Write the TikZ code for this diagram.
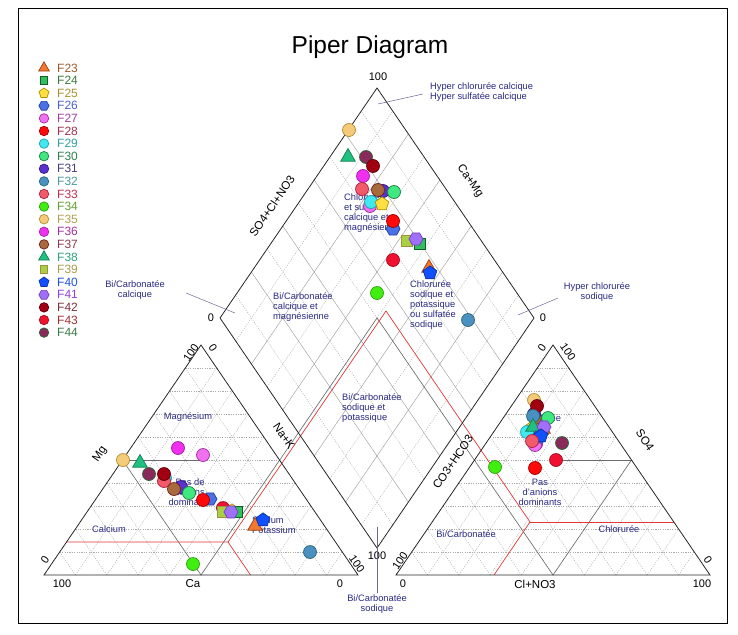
\documentclass[tikz,border=0pt]{standalone}
\usepackage{fontspec}
\setmainfont{Liberation Sans}
\usetikzlibrary{calc,shapes.geometric}

\definecolor{zone}{RGB}{40,40,130}
\definecolor{lead}{RGB}{105,105,150}
\definecolor{redln}{RGB}{225,55,55}
\definecolor{f23}{HTML}{F07830}\definecolor{b23}{HTML}{A04010}\definecolor{t23}{HTML}{9A5A2A}
\definecolor{f24}{HTML}{30C060}\definecolor{b24}{HTML}{106020}\definecolor{t24}{HTML}{3A7A3A}
\definecolor{f25}{HTML}{FFE040}\definecolor{b25}{HTML}{B09000}\definecolor{t25}{HTML}{A89030}
\definecolor{f26}{HTML}{4A70E8}\definecolor{b26}{HTML}{2040A0}\definecolor{t26}{HTML}{4A60D0}
\definecolor{f27}{HTML}{F070F0}\definecolor{b27}{HTML}{A030A0}\definecolor{t27}{HTML}{A040A0}
\definecolor{f28}{HTML}{FF0A0A}\definecolor{b28}{HTML}{A00000}\definecolor{t28}{HTML}{A03050}
\definecolor{f29}{HTML}{40E8F0}\definecolor{b29}{HTML}{20A0B0}\definecolor{t29}{HTML}{30A0A0}
\definecolor{f30}{HTML}{40E880}\definecolor{b30}{HTML}{208040}\definecolor{t30}{HTML}{2E8050}
\definecolor{f31}{HTML}{5A30D0}\definecolor{b31}{HTML}{301880}\definecolor{t31}{HTML}{4A3A80}
\definecolor{f32}{HTML}{4A90C0}\definecolor{b32}{HTML}{2A6A7A}\definecolor{t32}{HTML}{4A9A9A}
\definecolor{f33}{HTML}{F25A6A}\definecolor{b33}{HTML}{B02040}\definecolor{t33}{HTML}{C03050}
\definecolor{f34}{HTML}{40EE10}\definecolor{b34}{HTML}{30A010}\definecolor{t34}{HTML}{60A030}
\definecolor{f35}{HTML}{F5CA7A}\definecolor{b35}{HTML}{B09030}\definecolor{t35}{HTML}{B0A050}
\definecolor{f36}{HTML}{F030F0}\definecolor{b36}{HTML}{A020A0}\definecolor{t36}{HTML}{A030A0}
\definecolor{f37}{HTML}{A86A3A}\definecolor{b37}{HTML}{702020}\definecolor{t37}{HTML}{8A3A4A}
\definecolor{f38}{HTML}{20C080}\definecolor{b38}{HTML}{108050}\definecolor{t38}{HTML}{30A080}
\definecolor{f39}{HTML}{A8D040}\definecolor{b39}{HTML}{A09040}\definecolor{t39}{HTML}{A89A50}
\definecolor{f40}{HTML}{1050FF}\definecolor{b40}{HTML}{1030A0}\definecolor{t40}{HTML}{2050E0}
\definecolor{f41}{HTML}{A070F8}\definecolor{b41}{HTML}{7040C0}\definecolor{t41}{HTML}{9040E0}
\definecolor{f42}{HTML}{A00010}\definecolor{b42}{HTML}{600010}\definecolor{t42}{HTML}{803040}
\definecolor{f43}{HTML}{F01030}\definecolor{b43}{HTML}{A01020}\definecolor{t43}{HTML}{A03030}
\definecolor{f44}{HTML}{8A2A5A}\definecolor{b44}{HTML}{2A6A3A}\definecolor{t44}{HTML}{3A7A4A}

\newcommand{\mks}{13pt}

\tikzset{
  mk/.style={draw, line width=0.7pt, inner sep=0pt, minimum size=\mks},
  ci/.style={mk, circle},
  tri/.style={mk, regular polygon, regular polygon sides=3, minimum size=1.3*\mks},
  sq/.style={mk, rectangle, minimum size=0.8*\mks},
  pent/.style={mk, regular polygon, regular polygon sides=5, minimum size=1.1*\mks},
  hexa/.style={mk, regular polygon, regular polygon sides=6, minimum size=1.08*\mks},
  m23/.style={tri, fill=f23, draw=b23},
  m24/.style={sq, fill=f24, draw=b24},
  m25/.style={pent, fill=f25, draw=b25},
  m26/.style={hexa, fill=f26, draw=b26},
  m27/.style={ci, fill=f27, draw=b27},
  m28/.style={ci, fill=f28, draw=b28},
  m29/.style={ci, fill=f29, draw=b29},
  m30/.style={ci, fill=f30, draw=b30},
  m31/.style={ci, fill=f31, draw=b31},
  m32/.style={ci, fill=f32, draw=b32},
  m33/.style={ci, fill=f33, draw=b33},
  m34/.style={ci, fill=f34, draw=b34},
  m35/.style={ci, fill=f35, draw=b35},
  m36/.style={ci, fill=f36, draw=b36},
  m37/.style={ci, fill=f37, draw=b37},
  m38/.style={tri, fill=f38, draw=b38},
  m39/.style={sq, fill=f39, draw=b39},
  m40/.style={pent, fill=f40, draw=b40},
  m41/.style={hexa, fill=f41, draw=b41},
  m42/.style={ci, fill=f42, draw=b42},
  m43/.style={ci, fill=f43, draw=b43},
  m44/.style={ci, fill=f44, draw=b44}
}

\begin{document}
\begin{tikzpicture}[x=1pt, y=-1pt,
  edge/.style={line width=0.8pt, black!85},
  tgrid/.style={gray!65, line width=0.4pt, dash pattern=on 1.2pt off 1.2pt},
  dgrid/.style={gray!75, line width=0.45pt},
  ddash/.style={gray!65, line width=0.4pt, dash pattern=on 1.2pt off 1.2pt},
  cls/.style={gray!85!black, line width=0.6pt},
  redl/.style={redln, line width=0.7pt},
  leader/.style={lead, line width=0.5pt},
  zonetxt/.style={text=zone, font=\fontsize{9.3}{10}\selectfont, inner sep=0pt},
  ticktxt/.style={font=\fontsize{11}{12}\selectfont, inner sep=0pt},
  axtxt/.style={font=\fontsize{11.5}{13}\selectfont, inner sep=0pt}]
\useasboundingbox (0,0) rectangle (738,634);
\draw[line width=0.6pt] (18,8) rectangle (727,623);

\node[font=\fontsize{24.5}{27}\selectfont] (title) at (370,47) {Piper Diagram};

% corners
\coordinate (Lca) at (44,575);
\coordinate (Lna) at (358,575);
\coordinate (Lmg) at (201,345);
\coordinate (Rco) at (396,575);
\coordinate (Rcl) at (710,575);
\coordinate (Rso) at (553,345);
\coordinate (Db) at (377,548);
\coordinate (Dl) at (220,318);
\coordinate (Dr) at (534,318);
\coordinate (Dt) at (377,88);
\coordinate (Dc) at ($(Dl)!.5!(Dr)$);

% grids
\foreach \i in {1,...,9}{
  \draw[tgrid] ($(Lca)!0.\i!(Lmg)$) -- ($(Lna)!0.\i!(Lmg)$);
  \draw[tgrid] ($(Lca)!0.\i!(Lna)$) -- ($(Lca)!0.\i!(Lmg)$);
  \draw[tgrid] ($(Lna)!0.\i!(Lca)$) -- ($(Lna)!0.\i!(Lmg)$);
  \draw[tgrid] ($(Rco)!0.\i!(Rso)$) -- ($(Rcl)!0.\i!(Rso)$);
  \draw[tgrid] ($(Rco)!0.\i!(Rcl)$) -- ($(Rco)!0.\i!(Rso)$);
  \draw[tgrid] ($(Rcl)!0.\i!(Rco)$) -- ($(Rcl)!0.\i!(Rso)$);
}
\foreach \i in {1,3,5,7,9}{
  \draw[ddash] ($(Dl)!0.\i!(Db)$) -- ($(Dt)!0.\i!(Dr)$);
  \draw[ddash] ($(Db)!0.\i!(Dr)$) -- ($(Dl)!0.\i!(Dt)$);
}
\foreach \i in {2,4,6,8}{
  \draw[dgrid] ($(Dl)!0.\i!(Db)$) -- ($(Dt)!0.\i!(Dr)$);
  \draw[dgrid] ($(Db)!0.\i!(Dr)$) -- ($(Dl)!0.\i!(Dt)$);
}

% classes
\coordinate (Lm) at ($(Lca)!.5!(Lmg)$);
\coordinate (Lb) at ($(Lca)!.5!(Lna)$);
\coordinate (Lh) at ($(Lb)!.5!(Lmg)$);
\coordinate (Rm) at ($(Rcl)!.5!(Rso)$);
\coordinate (Rb) at ($(Rco)!.5!(Rcl)$);
\coordinate (Rh) at ($(Rb)!.5!(Rso)$);
\draw[cls] (Lm) -- (Lh);
\draw[cls] (Lm) -- (Lb) -- (Dc);
\draw[cls] (Rm) -- (Rh);
\draw[cls] (Rm) -- (Rb) -- (Dc);

\coordinate (rA) at (66.5,542);
\coordinate (rB) at (228,542);
\coordinate (rC) at (250.5,575);
\coordinate (rP) at (386,311);
\coordinate (rD) at (530,522);
\coordinate (rE) at (494,575);
\coordinate (rF) at (674,522);
\draw[redl] (rA) -- (rB) -- (rC);
\draw[redl] (rB) -- (rP) -- (rD) -- (rE);
\draw[redl] (rD) -- (rF);

\draw[edge] (Lca) -- (Lna) -- (Lmg) -- cycle;
\draw[edge] (Rco) -- (Rcl) -- (Rso) -- cycle;
\draw[edge] (Db) -- (Dr) -- (Dt) -- (Dl) -- cycle;

% ticks and axes
\node[ticktxt] (tDt) at (378,77) {100};
\node[ticktxt] (tDl) at (211,318) {0};
\node[ticktxt] (tDr) at (543,318) {0};
\node[ticktxt] (tDb) at (377,556) {100};
\node[ticktxt] (tL1) at (62,584) {100};
\node[axtxt] (aCa) at (193,584) {Ca};
\node[ticktxt] (tL2) at (340,584) {0};
\node[ticktxt, rotate=55.7] (tL3) at (45,560) {0};
\node[axtxt, rotate=55.7] (aMg) at (100,454) {Mg};
\node[ticktxt, rotate=55.7] (tL4) at (191,353) {100};
\node[ticktxt, rotate=-55.7] (tL5) at (213,348) {0};
\node[axtxt, rotate=-55.7] (aNa) at (284,436) {Na+K};
\node[ticktxt, rotate=-55.7] (tL6) at (357,564) {100};
\node[ticktxt] (tR1) at (403,584) {0};
\node[axtxt] (aCl) at (535,584) {Cl+NO3};
\node[ticktxt] (tR2) at (702,584) {100};
\node[ticktxt, rotate=55.7] (tR3) at (400,561) {100};
\node[axtxt, rotate=55.7] (aCO) at (453,462) {CO3+HCO3};
\node[ticktxt, rotate=55.7] (tR4) at (542,348) {0};
\node[ticktxt, rotate=-55.7] (tR5) at (568,352) {100};
\node[axtxt, rotate=-55.7] (aSO) at (645,440) {SO4};
\node[ticktxt, rotate=-55.7] (tR6) at (708,560) {0};
\node[axtxt, rotate=55.7] (aSC) at (272,206) {SO4+Cl+NO3};
\node[axtxt, rotate=-55.7] (aCM) at (470,181) {Ca+Mg};

% zones
\node[zonetxt] (zMg) at (188,417) {Magnésium};
\node[zonetxt] (zCa) at (109,529) {Calcium};
\node[zonetxt, anchor=west, align=left] (zNa) at (252,525) {Sodium\\Potassium};
\node[zonetxt, align=center] (zPc) at (190,492) {Pas de\\cations\\dominants};
\node[zonetxt] (zSu) at (544,418) {Sulfatée};
\node[zonetxt, align=center] (zPa) at (540,492) {Pas\\d'anions\\dominants};
\node[zonetxt] (zBi) at (466,534) {Bi/Carbonatée};
\node[zonetxt] (zCl) at (619,529) {Chlorurée};
\node[zonetxt, anchor=west, align=left] (zCS) at (344,213) {Chlorurée\\et sulfatée\\calcique et\\magnésienne};
\node[zonetxt, anchor=west, align=left] (zBC) at (273,307) {Bi/Carbonatée\\calcique et\\magnésienne};
\node[zonetxt, anchor=west, align=left] (zCN) at (410,305) {Chlorurée\\sodique et\\potassique\\ou sulfatée\\sodique};
\node[zonetxt, anchor=west, align=left] (zBN) at (342,408) {Bi/Carbonatée\\sodique et\\potassique};

\node[zonetxt, anchor=west, align=left] (hHC) at (430,92) {Hyper chlorurée calcique\\Hyper sulfatée calcique};
\node[zonetxt, align=center] (hHS) at (597,292) {Hyper chlorurée\\sodique};
\node[zonetxt, align=center] (hBC) at (135,290) {Bi/Carbonatée\\calcique};
\node[zonetxt, align=center] (hBS) at (377,604) {Bi/Carbonatée\\sodique};
\coordinate (p1) at (378,104);
\coordinate (p2) at (518,315);
\coordinate (p3) at (235,313);
\coordinate (p4) at (377,527);
\draw[leader] (p1) -- (423,94);
\draw[leader] (p2) -- (558,298);
\draw[leader] (p3) -- (186,293);
\draw[leader] (p4) -- (377,593);

% samples
\foreach \n/\x/\y in {29/165/478, 25/232/511, 35/123/460, 38/140/463, 44/149/474,
  33/164/481, 42/164/474, 31/181/487, 37/174/489, 30/189/493, 26/210/499,
  28/203/500, 27/203/455, 36/178/448, 43/223/508, 39/223/512, 24/237/512,
  41/231/512, 23/255/526, 40/263/520, 32/310/552, 34/193/564}
  \node[m\n] (c\n) at (\x,\y) {};
\foreach \n/\x/\y in {24/543/429, 39/543/429, 23/543/429, 37/535/418, 31/534/414,
  35/534/400, 42/537/406, 32/533/416, 30/548/418, 25/532/428, 29/527/432,
  38/533/427, 41/544/427, 36/536/444, 27/535/445, 26/539/437, 40/541/436,
  33/532/441, 44/562/443, 43/556/460, 28/535/468, 34/495/467}
  \node[m\n] (a\n) at (\x,\y) {};
\foreach \n/\x/\y in {35/349/130, 38/348/157, 44/366/157, 42/373/166, 36/363/176,
  33/362/189, 31/383/191, 37/378/190, 30/394/192, 27/370/206, 29/371/202,
  25/382/204, 26/393/229, 28/393/221, 39/407/241, 24/420/244, 41/416/239,
  43/393/260, 23/429/268, 40/430/273, 34/377/293, 32/468/320}
  \node[m\n] (d\n) at (\x,\y) {};

% legend
\foreach \n [count=\k from 0] in {23,...,44}{
  \def\mks{9.5pt}
  \node[m\n] (k\n) at (44,{68+12.6*\k}) {};
  \node[anchor=west, text=t\n, font=\fontsize{12}{13}\selectfont, inner sep=0pt] (f\n) at (57,{68+12.6*\k}) {F\n};
}
\end{tikzpicture}
\end{document}
